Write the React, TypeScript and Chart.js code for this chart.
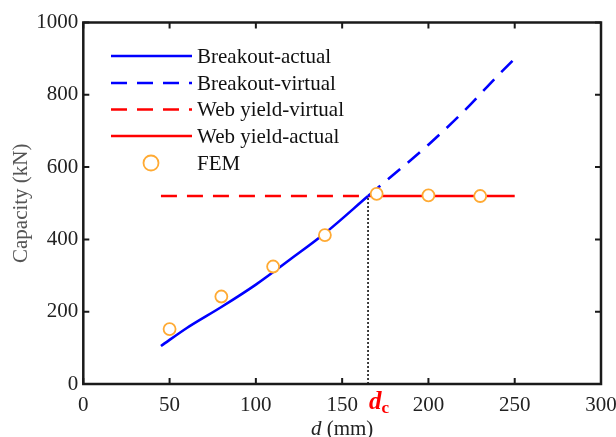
import React, { useEffect, useRef } from "react";
import { Chart, registerables } from "chart.js";

Chart.register(...registerables);

// ---- data ----
const breakoutActualX = [45, 60, 80, 100, 120, 140, 165];
const breakoutActualY = [105, 155, 213, 275, 345, 417, 520];
const breakoutVirtualX = [165, 180, 200, 220, 240, 250];
const breakoutVirtualY = [520, 580, 662, 752, 852, 900];
const webVirtualX = [45, 165];
const webVirtualY = [520, 520];
const webActualX = [165, 250];
const webActualY = [520, 520];
const femX = [50, 80, 110, 140, 170, 200, 230];
const femY = [152, 242, 325, 412, 526, 522, 520];
const dcX = 165;
const dcLineY = [0, 520];
const xTicks = [0, 50, 100, 150, 200, 250, 300];
const yTicks = [0, 200, 400, 600, 800, 1000];
const legendLabels = ["Breakout-actual", "Breakout-virtual", "Web yield-virtual", "Web yield-actual", "FEM"];

const BLUE = "#0000FF";
const RED = "#FF0000";
const ORANGE = "#FFAA33";
const SERIF = "'Liberation Serif', 'Times New Roman', serif";

const pts = (xs: number[], ys: number[]) => xs.map((x, i) => ({ x, y: ys[i] }));

const customPlugin = {
  id: "custom",
  afterDraw(chart: any) {
    const ctx = chart.ctx;
    const { left, right, top, bottom } = chart.chartArea;
    const xs = chart.scales.x;
    const ys = chart.scales.y;
    ctx.save();
    // ticks inward on all four sides
    ctx.strokeStyle = "#1a1a1a";
    ctx.lineWidth = 2;
    const tl = 6;
    xTicks.forEach((v) => {
      const px = xs.getPixelForValue(v);
      ctx.beginPath();
      ctx.moveTo(px, bottom);
      ctx.lineTo(px, bottom - tl);
      ctx.moveTo(px, top);
      ctx.lineTo(px, top + tl);
      ctx.stroke();
    });
    yTicks.forEach((v) => {
      const py = ys.getPixelForValue(v);
      ctx.beginPath();
      ctx.moveTo(left, py);
      ctx.lineTo(left + tl, py);
      ctx.moveTo(right, py);
      ctx.lineTo(right - tl, py);
      ctx.stroke();
    });
    // frame
    ctx.lineWidth = 2.5;
    ctx.strokeRect(left, top, right - left, bottom - top);

    // legend
    const rows = [56, 83, 109.5, 136, 163];
    const styles = [
      { c: BLUE, dash: [] as number[] },
      { c: BLUE, dash: [16, 10] },
      { c: RED, dash: [16, 10] },
      { c: RED, dash: [] as number[] },
    ];
    styles.forEach((s, i) => {
      ctx.beginPath();
      ctx.strokeStyle = s.c;
      ctx.lineWidth = 2.6;
      ctx.setLineDash(s.dash);
      ctx.moveTo(111, rows[i]);
      ctx.lineTo(192, rows[i]);
      ctx.stroke();
    });
    ctx.setLineDash([]);
    ctx.beginPath();
    ctx.strokeStyle = ORANGE;
    ctx.lineWidth = 1.8;
    ctx.fillStyle = "#fff";
    ctx.arc(151, rows[4], 7.5, 0, Math.PI * 2);
    ctx.fill();
    ctx.stroke();
    ctx.fillStyle = "#111";
    ctx.font = `21px ${SERIF}`;
    ctx.textAlign = "left";
    ctx.textBaseline = "middle";
    legendLabels.forEach((t, i) => ctx.fillText(t, 197, rows[i] + 1));

    // d_c label
    const dpx = xs.getPixelForValue(dcX);
    ctx.fillStyle = RED;
    ctx.textBaseline = "alphabetic";
    ctx.font = `italic bold 25px ${SERIF}`;
    ctx.fillText("d", dpx + 1, 409);
    const dw = ctx.measureText("d").width;
    ctx.font = `bold 17px ${SERIF}`;
    ctx.fillText("c", dpx + 1 + dw, 413);

    // x title
    ctx.fillStyle = "#222";
    ctx.font = `italic 21px ${SERIF}`;
    const w1 = ctx.measureText("d").width;
    ctx.font = `21px ${SERIF}`;
    const w2 = ctx.measureText(" (mm)").width;
    const cx = (left + right) / 2;
    const sx = cx - (w1 + w2) / 2;
    ctx.font = `italic 21px ${SERIF}`;
    ctx.fillText("d", sx, 435);
    ctx.font = `21px ${SERIF}`;
    ctx.fillText(" (mm)", sx + w1, 435);

    // y title
    ctx.save();
    ctx.translate(21, (top + bottom) / 2);
    ctx.rotate(-Math.PI / 2);
    ctx.fillStyle = "#555";
    ctx.font = `21px ${SERIF}`;
    ctx.textAlign = "center";
    ctx.textBaseline = "middle";
    ctx.fillText("Capacity (kN)", 0, 0);
    ctx.restore();

    ctx.restore();
  },
};

export default function App() {
  const ref = useRef<HTMLCanvasElement>(null);
  useEffect(() => {
    if (!ref.current) return;
    const chart = new Chart(ref.current, {
      type: "line",
      data: {
        datasets: [
          {
            label: "FEM",
            data: pts(femX, femY),
            showLine: false,
            pointRadius: 6,
            pointBorderWidth: 1.8,
            pointBorderColor: ORANGE,
            pointBackgroundColor: "#fff",
            borderColor: ORANGE,
          },
          {
            label: "Breakout-actual",
            data: pts(breakoutActualX, breakoutActualY),
            borderColor: BLUE,
            borderWidth: 2.6,
            pointRadius: 0,
            cubicInterpolationMode: "monotone",
          },
          {
            label: "Breakout-virtual",
            data: pts(breakoutVirtualX, breakoutVirtualY),
            borderColor: BLUE,
            borderWidth: 2.6,
            borderDash: [16, 10],
            pointRadius: 0,
            cubicInterpolationMode: "monotone",
          },
          {
            label: "Web yield-virtual",
            data: pts(webVirtualX, webVirtualY),
            borderColor: RED,
            borderWidth: 2.6,
            borderDash: [16, 10],
            pointRadius: 0,
          },
          {
            label: "Web yield-actual",
            data: pts(webActualX, webActualY),
            borderColor: RED,
            borderWidth: 2.6,
            pointRadius: 0,
          },
          {
            label: "dc",
            data: pts([dcX, dcX], dcLineY),
            borderColor: "#000",
            borderWidth: 1.5,
            borderDash: [2, 2],
            pointRadius: 0,
          },
        ],
      },
      options: {
        animation: false,
        responsive: true,
        maintainAspectRatio: false,
        layout: { padding: { top: 22.5, right: 15, left: 0, bottom: 0 } },
        plugins: { legend: { display: false }, tooltip: { enabled: false } },
        scales: {
          x: {
            type: "linear",
            min: 0,
            max: 300,
            grid: { display: false, drawTicks: false },
            border: { display: false },
            ticks: {
              stepSize: 50,
              padding: 9,
              color: "#222",
              font: { family: SERIF, size: 21 },
              maxRotation: 0,
              callback: (v: any) => String(v),
            },
            afterFit: (s: any) => {
              s.height = 53;
              s.paddingLeft = 0;
              s.paddingRight = 0;
            },
          },
          y: {
            type: "linear",
            min: 0,
            max: 1000,
            grid: { display: false, drawTicks: false },
            border: { display: false },
            ticks: {
              stepSize: 200,
              padding: 5,
              color: "#222",
              font: { family: SERIF, size: 21 },
              callback: (v: any) => String(v),
            },
            afterFit: (s: any) => {
              s.width = 83.3;
              s.paddingTop = 0;
              s.paddingBottom = 0;
            },
          },
        },
      },
      plugins: [customPlugin],
    });
    return () => chart.destroy();
  }, []);
  return (
    <div style={{ position: "fixed", left: 0, top: 0, width: 616, height: 437, background: "#fff" }}>
      <canvas ref={ref} />
    </div>
  );
}
